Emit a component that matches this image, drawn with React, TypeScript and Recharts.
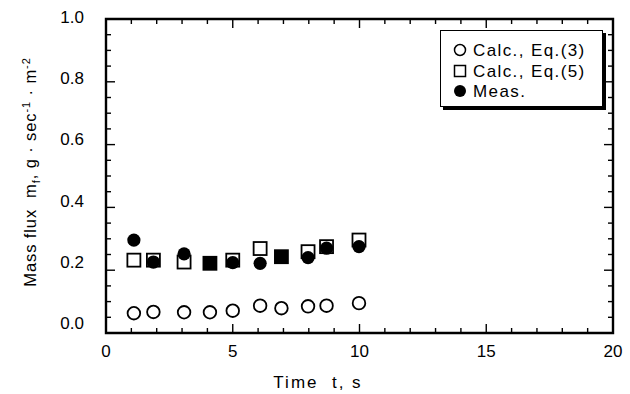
import React from 'react';
import { ScatterChart, Scatter, XAxis, YAxis, ReferenceArea } from 'recharts';

// Sampling times (s) shared by all three series
const times = [1.1, 1.87, 3.08, 4.1, 5.0, 6.08, 6.92, 7.97, 8.7, 9.98];
// Mass flux, g·sec^-1·m^-2
const calcEq3 = [0.063, 0.067, 0.066, 0.066, 0.071, 0.087, 0.079, 0.085, 0.087, 0.095];
const calcEq5 = [0.232, 0.232, 0.226, 0.222, 0.232, 0.269, 0.243, 0.259, 0.275, 0.296];
const measured = [0.296, 0.226, 0.252, 0.222, 0.224, 0.222, 0.243, 0.24, 0.27, 0.275];

const xTicks = [0, 1, 2, 3, 4, 5, 6, 7, 8, 9, 10, 11, 12, 13, 14, 15, 16, 17, 18, 19, 20];
const xLabels = ['0', '5', '10', '15', '20'];
const yTicks = [0, 0.05, 0.1, 0.15, 0.2, 0.25, 0.3, 0.35, 0.4, 0.45, 0.5, 0.55, 0.6, 0.65, 0.7, 0.75, 0.8, 0.85, 0.9, 0.95, 1.0];
const yLabels = ['0.0', '0.2', '0.4', '0.6', '0.8', '1.0'];

const legendItems = ['Calc., Eq.(3)', 'Calc., Eq.(5)', 'Meas.'];

const W = 630;
const H = 394;
const PLOT_LEFT = 106;
const PLOT_RIGHT = 613;
const PLOT_TOP = 19;
const PLOT_BOTTOM = 333;
const FONT = '"Liberation Sans", Arial, Helvetica, sans-serif';

const eq3Data = times.map((t, i) => ({ t, v: calcEq3[i] }));
const eq5Data = times.map((t, i) => ({ t, v: calcEq5[i], solid: calcEq5[i] === measured[i] }));
const measData = times.map((t, i) => ({ t, v: measured[i] }));

const OpenCircle = (p: any) => (
  <circle cx={p.cx} cy={p.cy} r={6.3} fill="#fff" stroke="#000" strokeWidth={1.8} />
);

// Where the measured value coincides with Eq.(5), the square is drawn solid
const Square = (p: any) => {
  const s = 13;
  const solid = p.payload && p.payload.solid;
  return (
    <rect
      x={p.cx - s / 2}
      y={p.cy - s / 2}
      width={s}
      height={s}
      fill={solid ? '#000' : '#fff'}
      stroke="#000"
      strokeWidth={1.8}
    />
  );
};

const FilledCircle = (p: any) => <circle cx={p.cx} cy={p.cy} r={6.6} fill="#000" />;

// Inward ticks on bottom and top edges, labels every 5 s
const XTick = (p: any) => {
  const v = Math.round(p.payload.value);
  const major = v % 5 === 0;
  const len = major ? 9 : 5;
  const label = major ? xLabels[v / 5] : null;
  return (
    <g>
      <line x1={p.x} x2={p.x} y1={PLOT_BOTTOM} y2={PLOT_BOTTOM - len} stroke="#000" strokeWidth={1.4} />
      <line x1={p.x} x2={p.x} y1={PLOT_TOP} y2={PLOT_TOP + len} stroke="#000" strokeWidth={1.4} />
      {label !== null && (
        <text x={p.x} y={357} textAnchor="middle" fontSize={17} fontFamily={FONT} fill="#000">
          {label}
        </text>
      )}
    </g>
  );
};

// Inward ticks on left and right edges, labels every 0.2
const YTick = (p: any) => {
  const idx = Math.round(p.payload.value * 20);
  const major = idx % 4 === 0;
  const len = major ? 9 : 5;
  const label = major ? yLabels[idx / 4] : null;
  const dy = -10 + 8 * p.payload.value;
  return (
    <g>
      <line x1={PLOT_LEFT} x2={PLOT_LEFT + len} y1={p.y} y2={p.y} stroke="#000" strokeWidth={1.4} />
      <line x1={PLOT_RIGHT} x2={PLOT_RIGHT - len} y1={p.y} y2={p.y} stroke="#000" strokeWidth={1.4} />
      {label !== null && (
        <text x={84} y={p.y + dy + 6} textAnchor="end" fontSize={17} fontFamily={FONT} fill="#000">
          {label}
        </text>
      )}
    </g>
  );
};

const LegendBox = () => (
  <div
    style={{
      position: 'absolute',
      left: 440,
      top: 30,
      width: 163,
      height: 77,
      border: '1.5px solid #000',
      boxShadow: '3px 3px 0 #000',
      background: '#fff',
      boxSizing: 'border-box',
    }}
  >
    <svg width={163} height={77} style={{ position: 'absolute', left: -1.5, top: -1.5 }}>
      <circle cx={20} cy={20} r={5.5} fill="#fff" stroke="#000" strokeWidth={1.5} />
      <rect x={14.5} y={35.5} width={11} height={11} fill="#fff" stroke="#000" strokeWidth={1.5} />
      <circle cx={20} cy={61} r={6} fill="#000" />
      {legendItems.map((txt, i) => (
        <text
          key={txt}
          x={33}
          y={26 + i * 20.5}
          fontSize={17}
          fontFamily={FONT}
          letterSpacing={1.4}
          fill="#000"
        >
          {txt}
        </text>
      ))}
    </svg>
  </div>
);

export default function App() {
  return (
    <div style={{ position: 'absolute', left: 0, top: 0, width: W, height: H, background: '#fff' }}>
      <ScatterChart
        width={W}
        height={H}
        margin={{ top: PLOT_TOP, right: W - PLOT_RIGHT, bottom: 21, left: 0 }}
      >
        <XAxis
          type="number"
          dataKey="t"
          domain={[0, 20]}
          ticks={xTicks}
          interval={0}
          height={H - 21 - PLOT_BOTTOM}
          axisLine={false}
          tickLine={false}
          tick={<XTick />}
        />
        <YAxis
          type="number"
          dataKey="v"
          domain={[0, 1]}
          ticks={yTicks}
          interval={0}
          width={PLOT_LEFT}
          axisLine={false}
          tickLine={false}
          tick={<YTick />}
        />
        <ReferenceArea x1={0} x2={20} y1={0} y2={1} fill="none" stroke="#000" strokeWidth={2.4} ifOverflow="visible" />
        <Scatter name={legendItems[0]} data={eq3Data} shape={<OpenCircle />} isAnimationActive={false} />
        <Scatter name={legendItems[1]} data={eq5Data} shape={<Square />} isAnimationActive={false} />
        <Scatter name={legendItems[2]} data={measData} shape={<FilledCircle />} isAnimationActive={false} />
      </ScatterChart>
      <svg width={W} height={H} style={{ position: 'absolute', left: 0, top: 0, pointerEvents: 'none' }}>
        <text x={318} y={388} textAnchor="middle" fontSize={17} fontFamily={FONT} letterSpacing={2} fill="#000" style={{ whiteSpace: 'pre' }}>
          {'Time  t, s'}
        </text>
        <text
          transform="translate(36,172) rotate(-90)"
          textAnchor="middle"
          fontSize={16.5}
          fontFamily={FONT}
          letterSpacing={0.9}
          fill="#000"
          style={{ whiteSpace: 'pre' }}
        >
          <tspan>{'Mass flux  m'}</tspan>
          <tspan fontSize={11} dy={4}>f</tspan>
          <tspan dy={-4}>{', g \u00b7 sec'}</tspan>
          <tspan fontSize={11} dy={-6}>{'-1'}</tspan>
          <tspan dy={6}>{' \u00b7 m'}</tspan>
          <tspan fontSize={11} dy={-6}>{'-2'}</tspan>
        </text>
      </svg>
      <LegendBox />
    </div>
  );
}
